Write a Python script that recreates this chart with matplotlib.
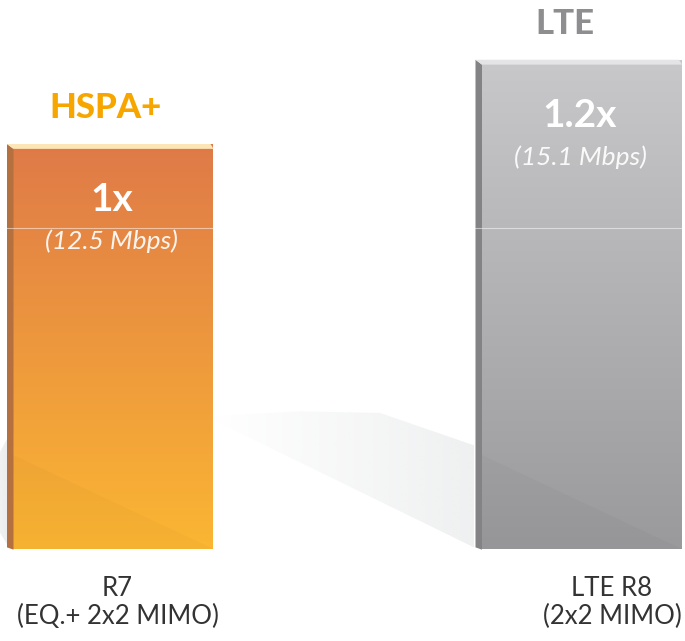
import numpy as np
import matplotlib
matplotlib.use("Agg")
import matplotlib.pyplot as plt
from matplotlib.patches import Rectangle, Polygon
from matplotlib.colors import LinearSegmentedColormap, to_rgb

# Peak downlink rates of the two technologies
techs = ["HSPA+", "LTE"]
rates_mbps = [12.5, 15.1]
ratios = ["1x", "1.2x"]
releases = ["R7\n(EQ.+ 2x2 MIMO)", "LTE R8\n(2x2 MIMO)"]

# Styling per bar
centers = [113.5, 582.0]
width = 200.0
grad_top = ["#DF7A48", "#C8C8CA"]
grad_bot = ["#FBB633", "#9A9A9C"]
side_col = ["#B5703F", "#838385"]
cap_col = ["#FCE6B8", "#E4E4E6"]
title_col = ["#F7A600", "#8E8E90"]
title_dx = [-8, -17]
label_dx = [4, 30]

W, H = 685, 641
fig = plt.figure(figsize=(W / 100, H / 100), dpi=100)
ax = fig.add_axes([0, 0, 1, 1])
scale = 32.4  # pixels per Mbps
base_px = 92  # baseline height above the bottom edge, in pixels
ax.set_xlim(0, W)
ax.set_ylim(-base_px / scale, (H - base_px) / scale)
ax.axis("off")

font = ["Lato", "DejaVu Sans"]
side_w = 6.5
dy = 0.15


def soft_shadow(verts, x_from, x_to, a_from, a_to):
    """Floor shadow that fades horizontally, clipped to a polygon."""
    rgb = to_rgb("#E2E4E5")
    n = 256
    img = np.zeros((2, n, 4))
    img[..., :3] = rgb
    img[..., 3] = np.linspace(a_from, a_to, n)[None, :]
    ys = [p[1] for p in verts]
    im = ax.imshow(img, origin="lower", aspect="auto", interpolation="bilinear",
                   extent=(x_from, x_to, min(ys), max(ys)), zorder=0)
    poly = Polygon(verts, closed=True, transform=ax.transData,
                   facecolor="none", edgecolor="none")
    ax.add_patch(poly)
    im.set_clip_path(poly)


soft_shadow([(212, 4.1), (300, 4.25), (380, 4.2), (474, 3.2), (474, 0.05), (212, 4.0)],
            212, 474, 0.0, 0.55)
soft_shadow([(0, 3.0), (9, 3.5), (9, 0.05), (0, 0.5)], 0, 9, 0.5, 0.7)

for i, (v, c) in enumerate(zip(rates_mbps, centers)):
    x0 = c - width / 2
    x1 = c + width / 2
    # front face with vertical gradient
    cmap = LinearSegmentedColormap.from_list(f"g{i}", [grad_bot[i], grad_top[i]])
    grad = np.linspace(0, 1, 256).reshape(-1, 1)
    im = ax.imshow(grad, cmap=cmap, origin="lower", aspect="auto",
                   extent=(x0, x1, 0, v), zorder=2, interpolation="bilinear")
    clip = Rectangle((x0, 0), width, v, transform=ax.transData, facecolor="none", edgecolor="none")
    ax.add_patch(clip)
    im.set_clip_path(clip)
    # subtle darker lower-left triangle
    ax.add_patch(Polygon([(x0, 0), (x0, 2.9), (x1, 0)], closed=True,
                         facecolor="black", alpha=0.018, edgecolor="none", zorder=3))
    # side face
    ax.add_patch(Polygon([(x0 - side_w, v), (x0, v - dy), (x0, -0.02), (x0 - side_w, 0.05)],
                         closed=True, facecolor=side_col[i], edgecolor="none", zorder=2))
    # top cap
    ax.add_patch(Polygon([(x0 - side_w, v), (x1 - 3, v), (x1, v - dy), (x0, v - dy)],
                         closed=True, facecolor=cap_col[i], edgecolor="none", zorder=3))
    # faint highlight line
    ax.plot([x0 - side_w, x1], [(549 - 228) / scale] * 2, color="white", lw=0.8,
            alpha=0.5, zorder=4)

    ax.text(c + title_dx[i], v + 1.1, techs[i], ha="center", va="center", fontsize=25,
            fontweight="black", color=title_col[i], family=font)
    ax.text(c - 2, v - 1.72, ratios[i], ha="center", va="center", fontsize=28,
            fontweight="bold", color="white", family=font, zorder=5)
    ax.text(c - 2, v - 3.0, f"({v} Mbps)", ha="center", va="center", fontsize=19,
            style="italic", color="white", alpha=0.92, family=font, zorder=5)
    ax.text(c + label_dx[i], -1.65, releases[i], ha="center", va="center",
            fontsize=18.5, color="#333333", family=font, linespacing=1.15)

fig.savefig("out.png", dpi=100, facecolor="white")
